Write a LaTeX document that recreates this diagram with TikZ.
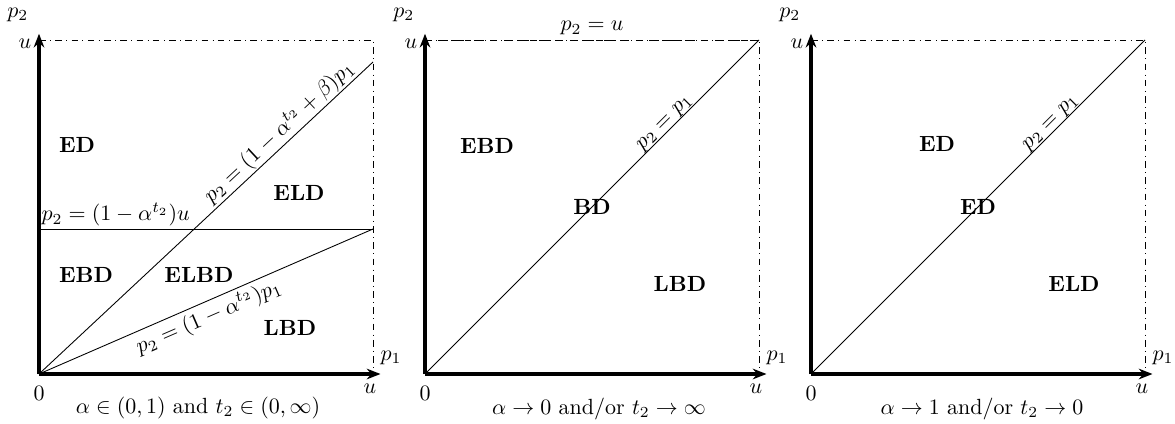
\documentclass[tikz,border=0pt]{standalone}
\usetikzlibrary{arrows.meta,positioning,calc}

\begin{document}
\begin{tikzpicture}[
    axis/.style={line width=1.4pt, -{Stealth[length=2.2mm, width=1.7mm]}},
    bound/.style={thin, dash dot},
    curve/.style={thin},
    region/.style={font=\bfseries},
    eqn/.style={sloped, inner sep=0.5pt}
]
    \useasboundingbox (0,0) rectangle (18.8,6.768);
    \def\side{5.344}
    % frames and axes of the three panels
    \foreach \ox/\nm in {0.624/a, 6.8/b, 12.976/c} {
        \begin{scope}[shift={(\ox,0.784)}]
            \coordinate (\nm0) at (0,0);
            \coordinate (\nm1) at (\side,0);
            \coordinate (\nm2) at (0,\side);
            \coordinate (\nm3) at (\side,\side);
            \draw[bound] (\nm2) -- (\nm3) -- (\nm1);
            \draw[axis] (\nm0) -- ++(\side+0.12,0);
            \draw[axis] (\nm0) -- ++(0,\side+0.1);
            \node[below=2pt of \nm0] (\nm-zero) {$0$};
            \node[below=1pt] (\nm-uone) at (\side-0.05,0) {$u$};
            \node[left] (\nm-utwo) at (0,\side-0.06) {$u$};
            \node (\nm-pone) at (\side+0.29,0.26) {$p_1$};
            \node (\nm-ptwo) at (-0.34,\side+0.4) {$p_2$};
        \end{scope}
    }

    % panel 1: alpha in (0,1)
    \coordinate (ah) at ($(a0)+(0,2.32)$);
    \coordinate (ar) at ($(a1)+(0,2.32)$);
    \coordinate (at) at ($(a1)+(0,4.992)$);
    \draw[curve] (ah) -- node[pos=0, anchor=south west, inner sep=1pt] {$p_2=(1-\alpha^{t_2})u$} (ar);
    \draw[curve] (a0) -- node[eqn, pos=0.745, above] {$p_2=(1-\alpha^{t_2}+\beta)p_1$} (at);
    \draw[curve] (a0) -- node[eqn, pos=0.49, below, inner sep=1.5pt] {$p_2=(1-\alpha^{t_2})p_1$} (ar);
    \node[region] (a-ed) at ($(a0)+(0.608,3.664)$) {ED};
    \node[region] (a-eld) at ($(a0)+(4.16,2.896)$) {ELD};
    \node[region] (a-ebd) at ($(a0)+(0.752,1.584)$) {EBD};
    \node[region] (a-elbd) at ($(a0)+(2.56,1.584)$) {ELBD};
    \node[region] (a-lbd) at ($(a0)+(4.016,0.736)$) {LBD};
    \node (a-cap) at ($(a0)+(2.544,-0.544)$) {$\alpha\in(0,1)$ and $t_2\in(0,\infty)$};

    % panel 2: alpha -> 0
    \draw[dashed] (b2) -- node[above, inner sep=2pt] {$p_2=u$} (b3);
    \draw[curve] (b0) -- node[eqn, pos=0.735, above, inner sep=0pt] {$p_2=p_1$} (b3);
    \node[region] (b-ebd) at ($(b0)+(0.992,3.648)$) {EBD};
    \node[region] (b-bd) at ($(b0)!0.5!(b3)$) {BD};
    \node[region] (b-lbd) at ($(b0)+(4.08,1.44)$) {LBD};
    \node (b-cap) at ($(b0)+(2.784,-0.56)$) {$\alpha\to0$ and/or $t_2\to\infty$};

    % panel 3: alpha -> 1
    \draw[curve] (c0) -- node[eqn, pos=0.735, above, inner sep=0pt] {$p_2=p_1$} (c3);
    \node[region] (c-ed) at ($(c0)+(2.016,3.68)$) {ED};
    \node[region] (c-edm) at ($(c0)!0.5!(c3)$) {ED};
    \node[region] (c-eld) at ($(c0)+(4.208,1.44)$) {ELD};
    \node (c-cap) at ($(c0)+(2.736,-0.56)$) {$\alpha\to1$ and/or $t_2\to0$};
\end{tikzpicture}
\end{document}
